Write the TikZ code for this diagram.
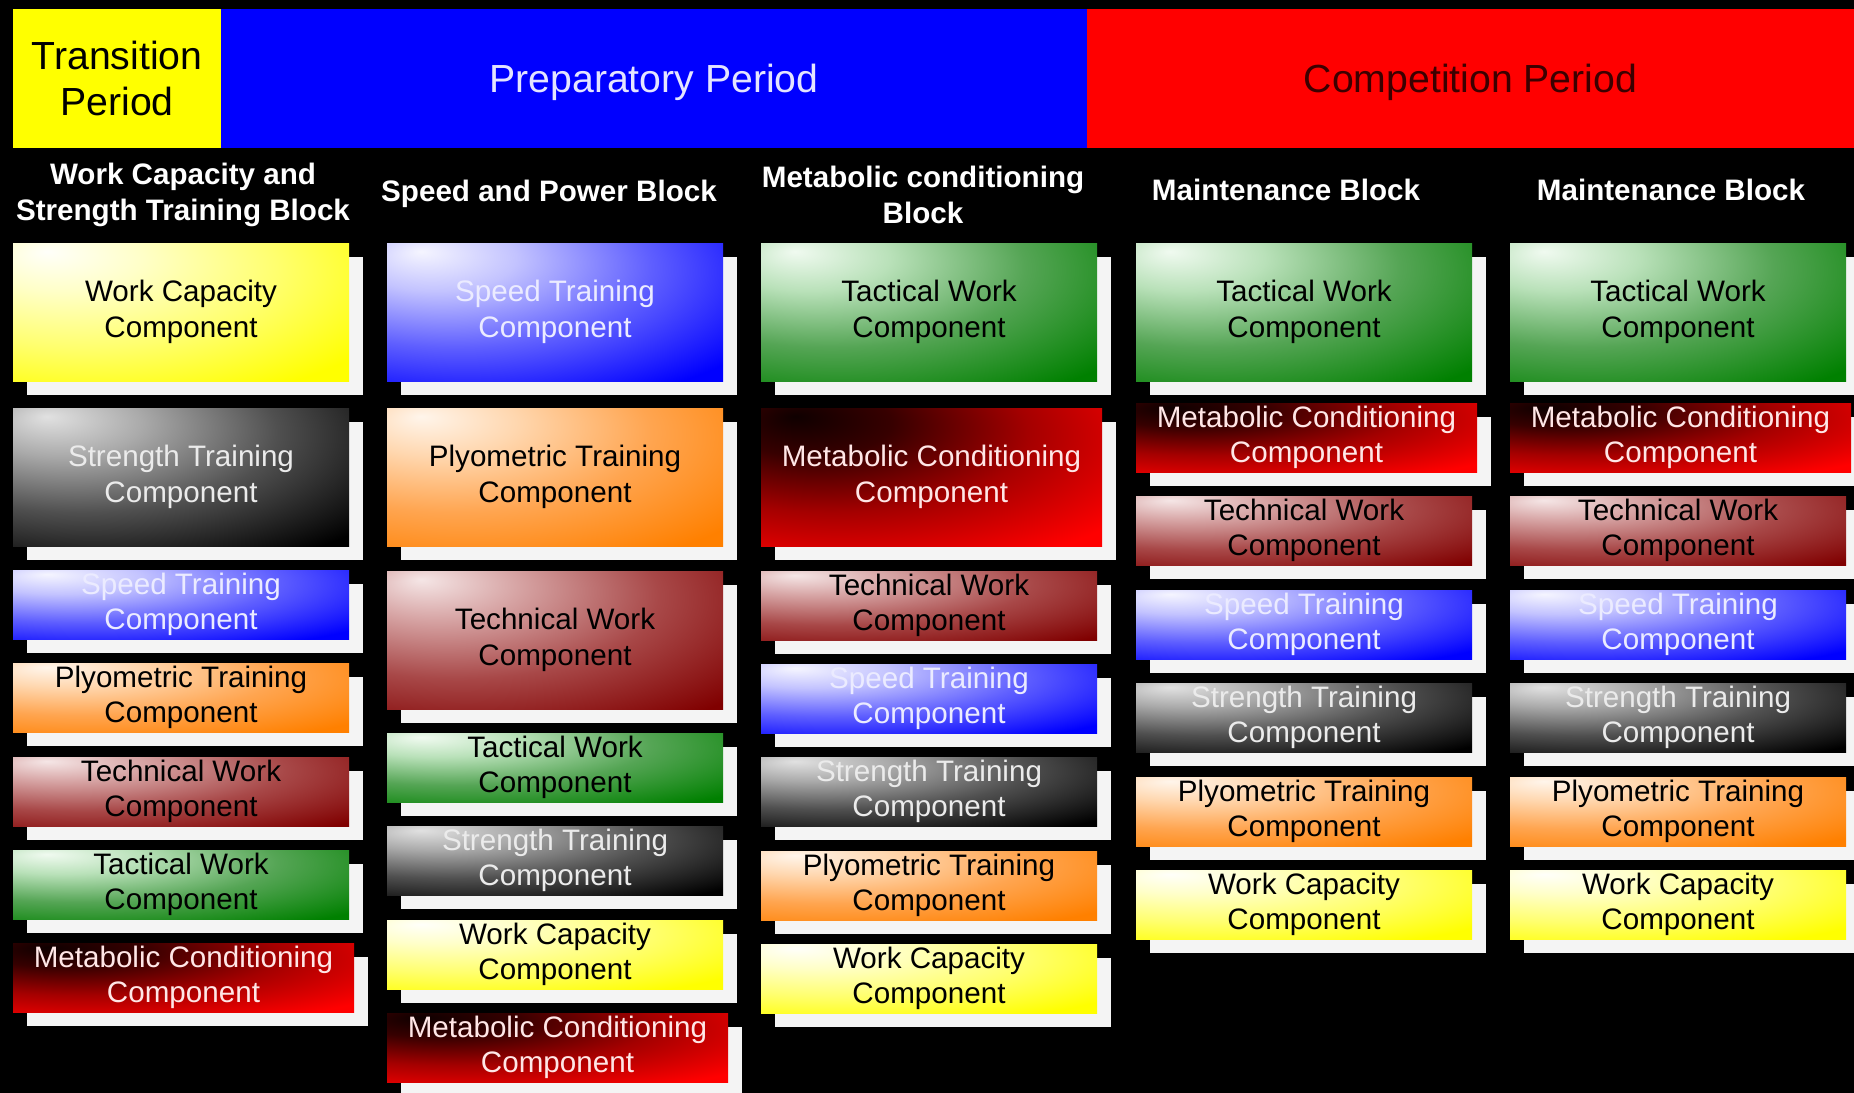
\documentclass[tikz,border=0pt]{standalone}
\usepackage{fontspec}
\setmainfont{Liberation Sans}
\usetikzlibrary{shadows}

\definecolor{cWC}{RGB}{255,255,0}
\definecolor{cWCa}{RGB}{255,255,250}
\definecolor{cWCb}{RGB}{255,255,200}
\definecolor{cWCc}{RGB}{255,255,110}
\definecolor{cST}{RGB}{0,0,0}
\definecolor{cSTa}{RGB}{225,225,225}
\definecolor{cSTb}{RGB}{170,170,170}
\definecolor{cSTc}{RGB}{80,80,80}
\definecolor{cSP}{RGB}{0,0,255}
\definecolor{cSPa}{RGB}{245,245,255}
\definecolor{cSPb}{RGB}{195,195,255}
\definecolor{cSPc}{RGB}{95,95,255}
\definecolor{cPL}{RGB}{255,128,0}
\definecolor{cPLa}{RGB}{255,245,235}
\definecolor{cPLb}{RGB}{255,215,175}
\definecolor{cPLc}{RGB}{255,165,80}
\definecolor{cTE}{RGB}{128,0,0}
\definecolor{cTEa}{RGB}{245,230,230}
\definecolor{cTEb}{RGB}{215,165,165}
\definecolor{cTEc}{RGB}{168,72,72}
\definecolor{cTA}{RGB}{0,128,0}
\definecolor{cTAa}{RGB}{240,250,240}
\definecolor{cTAb}{RGB}{185,225,185}
\definecolor{cTAc}{RGB}{85,165,85}
\definecolor{cMC}{RGB}{255,0,0}
\definecolor{cMCa}{RGB}{15,0,0}
\definecolor{cMCb}{RGB}{55,0,0}
\definecolor{cMCc}{RGB}{165,0,0}
\definecolor{shadowc}{RGB}{244,244,244}
\definecolor{preptext}{RGB}{228,228,255}
\definecolor{comptext}{RGB}{60,0,0}
\definecolor{lighttext}{RGB}{235,235,235}
\definecolor{speedtext}{RGB}{235,235,255}
\definecolor{mctext}{RGB}{255,230,230}

\pgfdeclareradialshading{shWC}{\pgfpoint{-20bp}{22bp}}{color(0bp)=(cWCa); color(12bp)=(cWCb); color(29bp)=(cWCc); color(47bp)=(cWC); color(110bp)=(cWC)}
\pgfdeclareradialshading{shST}{\pgfpoint{-20bp}{22bp}}{color(0bp)=(cSTa); color(12bp)=(cSTb); color(29bp)=(cSTc); color(49bp)=(cST); color(110bp)=(cST)}
\pgfdeclareradialshading{shSP}{\pgfpoint{-20bp}{22bp}}{color(0bp)=(cSPa); color(12bp)=(cSPb); color(29bp)=(cSPc); color(48bp)=(cSP); color(110bp)=(cSP)}
\pgfdeclareradialshading{shPL}{\pgfpoint{-20bp}{22bp}}{color(0bp)=(cPLa); color(12bp)=(cPLb); color(29bp)=(cPLc); color(48bp)=(cPL); color(110bp)=(cPL)}
\pgfdeclareradialshading{shTE}{\pgfpoint{-20bp}{22bp}}{color(0bp)=(cTEa); color(12bp)=(cTEb); color(30bp)=(cTEc); color(50bp)=(cTE); color(110bp)=(cTE)}
\pgfdeclareradialshading{shTA}{\pgfpoint{-20bp}{22bp}}{color(0bp)=(cTAa); color(12bp)=(cTAb); color(29bp)=(cTAc); color(49bp)=(cTA); color(110bp)=(cTA)}
\pgfdeclareradialshading{shMC}{\pgfpoint{-20bp}{22bp}}{color(0bp)=(cMCa); color(12bp)=(cMCb); color(29bp)=(cMCc); color(48bp)=(cMC); color(110bp)=(cMC)}

\tikzset{
  comp/.style={anchor=north west, inner sep=0pt, outer sep=0pt, align=center,
    minimum width=168pt, font=\fontsize{14.8}{17.7}\selectfont,
    drop shadow={shadow xshift=7pt, shadow yshift=-7pt, fill=shadowc, opacity=1}},
  big/.style={minimum height=69pt},
  small/.style={minimum height=34.5pt},
  wide/.style={minimum width=170.5pt},
  wc/.style={shade, shading=shWC, text=black},
  st/.style={shade, shading=shST, text=lighttext},
  sp/.style={shade, shading=shSP, text=speedtext},
  pl/.style={shade, shading=shPL, text=black},
  te/.style={shade, shading=shTE, text=black},
  ta/.style={shade, shading=shTA, text=black},
  mc/.style={shade, shading=shMC, text=mctext},
  period/.style={anchor=north west, inner sep=0pt, outer sep=0pt, align=center,
    minimum height=69.5pt, font=\fontsize{19.6}{23}\selectfont},
  colhead/.style={align=center, inner sep=0pt, text=white,
    font=\bfseries\fontsize{14.8}{17.7}\selectfont}
}

\begin{document}
\begin{tikzpicture}[x=0.5pt, y=-0.5pt]
\fill[black] (0,0) rectangle (1854,1093);
\useasboundingbox (0,0) rectangle (1854,1093);

% period bands
\node[period, fill=cWC, text=black, minimum width=104pt] (tp) at (13,9) {Transition\\Period};
\node[period, fill=cSP, text=preptext, minimum width=433pt, text depth=0.5pt] (pp) at (221,9) {Preparatory Period};
\node[period, fill=cMC, text=comptext, minimum width=383.5pt, text depth=0.5pt] (cp) at (1087,9) {Competition Period};

% column headers
\node[colhead] (h1) at (183,195) {Work Capacity and\\Strength Training Block};
\node[colhead] (h2) at (549,194) {Speed and Power Block};
\node[colhead] (h3) at (923,195) {Metabolic conditioning\\Block};
\node[colhead] (h4) at (1286,190) {Maintenance Block};
\node[colhead] (h5) at (1671,190) {Maintenance Block};

% column 1
\node[comp,big,wc] (c1wc) at (13,243) {Work Capacity\\Component};
\node[comp,big,st] (c1st) at (13,408) {Strength Training\\Component};
\node[comp,small,sp] (c1sp) at (13,570) {Speed Training\\Component};
\node[comp,small,pl] (c1pl) at (13,663) {Plyometric Training\\Component};
\node[comp,small,te] (c1te) at (13,757) {Technical Work\\Component};
\node[comp,small,ta] (c1ta) at (13,850) {Tactical Work\\Component};
\node[comp,small,mc,wide] (c1mc) at (13,943) {Metabolic Conditioning\\Component};

% column 2
\node[comp,big,sp] (c2sp) at (387,243) {Speed Training\\Component};
\node[comp,big,pl] (c2pl) at (387,408) {Plyometric Training\\Component};
\node[comp,big,te] (c2te) at (387,571) {Technical Work\\Component};
\node[comp,small,ta] (c2ta) at (387,733) {Tactical Work\\Component};
\node[comp,small,st] (c2st) at (387,826) {Strength Training\\Component};
\node[comp,small,wc] (c2wc) at (387,920) {Work Capacity\\Component};
\node[comp,small,mc,wide] (c2mc) at (387,1013) {Metabolic Conditioning\\Component};

% column 3
\node[comp,big,ta] (c3ta) at (761,243) {Tactical Work\\Component};
\node[comp,big,mc,wide] (c3mc) at (761,408) {Metabolic Conditioning\\Component};
\node[comp,small,te] (c3te) at (761,571) {Technical Work\\Component};
\node[comp,small,sp] (c3sp) at (761,664) {Speed Training\\Component};
\node[comp,small,st] (c3st) at (761,757) {Strength Training\\Component};
\node[comp,small,pl] (c3pl) at (761,851) {Plyometric Training\\Component};
\node[comp,small,wc] (c3wc) at (761,944) {Work Capacity\\Component};

% column 4
\node[comp,big,ta] (c4ta) at (1136,243) {Tactical Work\\Component};
\node[comp,small,mc,wide] (c4mc) at (1136,403) {Metabolic Conditioning\\Component};
\node[comp,small,te] (c4te) at (1136,496) {Technical Work\\Component};
\node[comp,small,sp] (c4sp) at (1136,590) {Speed Training\\Component};
\node[comp,small,st] (c4st) at (1136,683) {Strength Training\\Component};
\node[comp,small,pl] (c4pl) at (1136,777) {Plyometric Training\\Component};
\node[comp,small,wc] (c4wc) at (1136,870) {Work Capacity\\Component};

% column 5
\node[comp,big,ta] (c5ta) at (1510,243) {Tactical Work\\Component};
\node[comp,small,mc,wide] (c5mc) at (1510,403) {Metabolic Conditioning\\Component};
\node[comp,small,te] (c5te) at (1510,496) {Technical Work\\Component};
\node[comp,small,sp] (c5sp) at (1510,590) {Speed Training\\Component};
\node[comp,small,st] (c5st) at (1510,683) {Strength Training\\Component};
\node[comp,small,pl] (c5pl) at (1510,777) {Plyometric Training\\Component};
\node[comp,small,wc] (c5wc) at (1510,870) {Work Capacity\\Component};
\end{tikzpicture}
\end{document}
